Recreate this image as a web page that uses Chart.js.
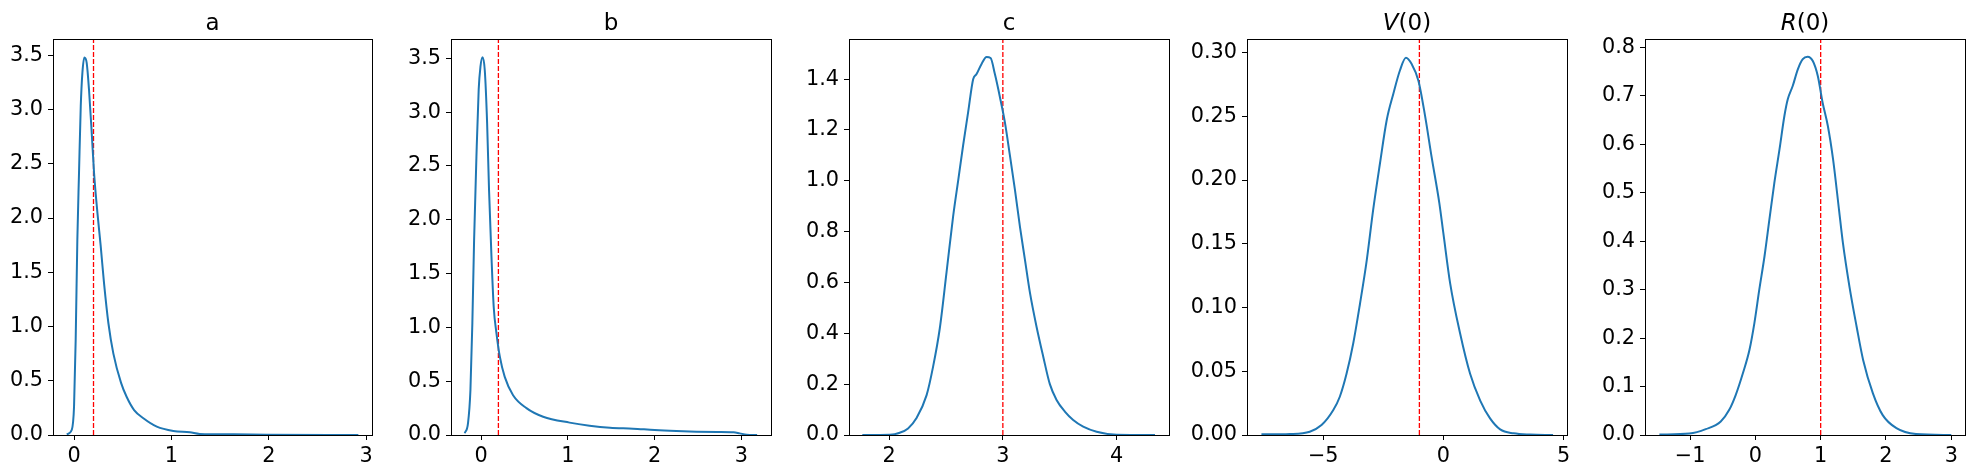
<!DOCTYPE html>
<html>
<head>
<meta charset="utf-8">
<script src="https://cdn.jsdelivr.net/npm/chart.js@4/dist/chart.umd.min.js"></script>
<style>
  html, body { margin: 0; padding: 0; background: #fff; }
  #wrap { position: relative; width: 1975px; height: 475px; overflow: hidden; }
  canvas { position: absolute; top: 0; }
</style>
</head>
<body>
<div id="wrap"></div>
<script>
'use strict';

// posterior density curves
const aX = [-0.075, -0.024, 0, 0.017, 0.034, 0.051, 0.069, 0.086, 0.106, 0.13, 0.154, 0.182, 0.206, 0.24, 0.274, 0.308, 0.353, 0.404, 0.483, 0.541, 0.617, 0.712, 0.85, 1.02, 1.19, 1.29, 1.64, 1.98, 2.92];
const aY = [0.006, 0.046, 0.26, 0.88, 1.80, 2.41, 3.03, 3.34, 3.48, 3.43, 3.18, 2.78, 2.41, 2.05, 1.74, 1.40, 1.03, 0.75, 0.48, 0.35, 0.23, 0.154, 0.077, 0.037, 0.025, 0.01, 0.006, 0.003, 0];

const bX = [-0.188, -0.15, -0.122, -0.1, -0.08, -0.053, -0.027, -0.007, 0.016, 0.043, 0.07, 0.092, 0.12, 0.146, 0.177, 0.216, 0.273, 0.369, 0.523, 0.715, 1.02, 1.25, 1.485, 1.75, 2.0, 2.25, 2.48, 2.72, 2.91, 2.98, 3.06, 3.18];
const bY = [0.016, 0.11, 0.42, 1.04, 1.81, 2.59, 3.21, 3.42, 3.51, 3.39, 2.90, 2.28, 1.66, 1.19, 0.95, 0.73, 0.54, 0.37, 0.25, 0.17, 0.115, 0.087, 0.068, 0.059, 0.046, 0.037, 0.031, 0.028, 0.025, 0.015, 0.003, 0];

const cX = [1.765, 2.006, 2.094, 2.167, 2.24, 2.33, 2.387, 2.446, 2.505, 2.563, 2.607, 2.651, 2.695, 2.739, 2.769, 2.813, 2.857, 2.892, 2.93, 2.974, 3.018, 3.062, 3.106, 3.15, 3.194, 3.238, 3.296, 3.354, 3.413, 3.472, 3.545, 3.618, 3.706, 3.824, 4.0, 4.337];
const cY = [0, 0.001, 0.009, 0.026, 0.066, 0.157, 0.269, 0.42, 0.64, 0.86, 1.00, 1.14, 1.27, 1.40, 1.42, 1.46, 1.487, 1.483, 1.42, 1.33, 1.23, 1.10, 0.965, 0.82, 0.69, 0.56, 0.426, 0.31, 0.20, 0.138, 0.092, 0.059, 0.033, 0.013, 0.001, 0];

const vX = [-7.57, -6.39, -5.56, -5.07, -4.58, -4.31, -4.03, -3.75, -3.47, -3.19, -2.92, -2.64, -2.36, -2.08, -1.81, -1.56, -1.32, -1.04, -0.76, -0.49, -0.17, 0, 0.28, 0.69, 1.11, 1.53, 1.94, 2.36, 2.92, 3.61, 4.56];
const vY = [0.0005, 0.0008, 0.0026, 0.0078, 0.0196, 0.030, 0.048, 0.072, 0.103, 0.137, 0.177, 0.213, 0.247, 0.268, 0.286, 0.296, 0.291, 0.278, 0.25, 0.218, 0.182, 0.158, 0.119, 0.080, 0.048, 0.027, 0.013, 0.0044, 0.0013, 0.0003, 0];

const rX = [-1.47, -1.01, -0.76, -0.53, -0.40, -0.30, -0.19, -0.09, -0.015, 0.06, 0.14, 0.215, 0.29, 0.37, 0.445, 0.496, 0.573, 0.65, 0.726, 0.80, 0.88, 0.956, 1.03, 1.11, 1.19, 1.28, 1.34, 1.44, 1.55, 1.65, 1.80, 1.95, 2.16, 2.46, 3.0];
const rY = [0.001, 0.003, 0.012, 0.028, 0.052, 0.083, 0.128, 0.176, 0.231, 0.30, 0.369, 0.445, 0.52, 0.59, 0.659, 0.693, 0.721, 0.755, 0.776, 0.781, 0.772, 0.741, 0.686, 0.638, 0.569, 0.466, 0.397, 0.307, 0.224, 0.155, 0.086, 0.041, 0.014, 0.002, 0];

// true parameter values (red dashed lines)
const trueValues = [0.2, 0.2, 3, -1, 1];

const titles = [
  [{ t: 'a', italic: false }],
  [{ t: 'b', italic: false }],
  [{ t: 'c', italic: false }],
  [{ t: 'V', italic: true }, { t: '(0)', italic: false }],
  [{ t: 'R', italic: true }, { t: '(0)', italic: false }]
];

const xTicks = [[0, 1, 2, 3], [0, 1, 2, 3], [2, 3, 4], [-5, 0, 5], [-1, 0, 1, 2, 3]];
const xTickLabels = [['0', '1', '2', '3'], ['0', '1', '2', '3'], ['2', '3', '4'], ['\u22125', '0', '5'], ['\u22121', '0', '1', '2', '3']];
const yTicks = [
  [0, 0.5, 1, 1.5, 2, 2.5, 3, 3.5],
  [0, 0.5, 1, 1.5, 2, 2.5, 3, 3.5],
  [0, 0.2, 0.4, 0.6, 0.8, 1.0, 1.2, 1.4],
  [0, 0.05, 0.10, 0.15, 0.20, 0.25, 0.30],
  [0, 0.1, 0.2, 0.3, 0.4, 0.5, 0.6, 0.7, 0.8]
];
const yTickLabels = [
  ['0.0', '0.5', '1.0', '1.5', '2.0', '2.5', '3.0', '3.5'],
  ['0.0', '0.5', '1.0', '1.5', '2.0', '2.5', '3.0', '3.5'],
  ['0.0', '0.2', '0.4', '0.6', '0.8', '1.0', '1.2', '1.4'],
  ['0.00', '0.05', '0.10', '0.15', '0.20', '0.25', '0.30'],
  ['0.0', '0.1', '0.2', '0.3', '0.4', '0.5', '0.6', '0.7', '0.8']
];

const curves = [[aX, aY], [bX, bY], [cX, cY], [vX, vY], [rX, rY]];

// axes placement and ranges
const panels = [
  { left: 53, right: 372, xMin: -0.216, xMax: 3.06, yMax: 3.65 },
  { left: 451, right: 771, xMin: -0.346, xMax: 3.34, yMax: 3.68 },
  { left: 849, right: 1169, xMin: 1.648, xMax: 4.46, yMax: 1.558 },
  { left: 1247, right: 1567, xMin: -8.17, xMax: 5.14, yMax: 0.3107 },
  { left: 1645, right: 1965, xMin: -1.69, xMax: 3.21, yMax: 0.8175 }
];

const FONT = "'DejaVu Sans', sans-serif";
const TITLE_PX = 23;
const Y_W = 62;
const PAD_R = 12;

const frameAndTitle = {
  id: 'frameAndTitle',
  afterDraw(chart) {
    const { ctx, chartArea } = chart;
    ctx.save();
    ctx.strokeStyle = '#000';
    ctx.lineWidth = 1;
    ctx.strokeRect(Math.round(chartArea.left) + 0.5, Math.round(chartArea.top) + 0.5,
      Math.round(chartArea.right - chartArea.left), Math.round(chartArea.bottom - chartArea.top));
    const parts = chart.options.plugins.frameAndTitle.parts;
    let total = 0;
    parts.forEach(p => {
      ctx.font = (p.italic ? 'italic ' : '') + TITLE_PX + 'px ' + FONT;
      p.w = ctx.measureText(p.t).width;
      total += p.w;
    });
    let x = (chartArea.left + chartArea.right) / 2 - total / 2;
    ctx.fillStyle = '#000';
    ctx.textBaseline = 'alphabetic';
    parts.forEach(p => {
      ctx.font = (p.italic ? 'italic ' : '') + TITLE_PX + 'px ' + FONT;
      ctx.fillText(p.t, x, 30);
      x += p.w;
    });
    ctx.restore();
  }
};

const wrap = document.getElementById('wrap');

panels.forEach((p, i) => {
  const canvas = document.createElement('canvas');
  const w = p.right - p.left + Y_W + PAD_R;
  canvas.width = w;
  canvas.height = 475;
  canvas.style.left = (p.left - Y_W) + 'px';
  canvas.style.width = w + 'px';
  canvas.style.height = '475px';
  wrap.appendChild(canvas);

  const [xs, ys] = curves[i];
  const pts = xs.map((x, k) => ({ x: x, y: ys[k] }));
  const tv = trueValues[i];

  new Chart(canvas.getContext('2d'), {
    type: 'line',
    data: {
      datasets: [{
        data: pts,
        borderColor: '#1f77b4',
        borderWidth: 2,
        pointRadius: 0,
        fill: false,
        cubicInterpolationMode: 'monotone'
      }, {
        data: [{ x: tv, y: 0 }, { x: tv, y: p.yMax }],
        borderColor: '#ff0000',
        borderWidth: 1.3,
        borderDash: [5, 2],
        pointRadius: 0,
        fill: false
      }]
    },
    plugins: [frameAndTitle],
    options: {
      responsive: false,
      animation: false,
      events: [],
      layout: { padding: { top: 39, right: PAD_R, left: 0, bottom: 0 } },
      plugins: {
        legend: { display: false },
        tooltip: { enabled: false },
        frameAndTitle: { parts: titles[i] }
      },
      scales: {
        x: {
          type: 'linear',
          min: p.xMin,
          max: p.xMax,
          afterBuildTicks: axis => { axis.ticks = xTicks[i].map(v => ({ value: v })); },
          afterFit: axis => { axis.height = 40; },
          grid: { drawOnChartArea: false, drawTicks: true, tickLength: 5, tickColor: '#000', tickWidth: 1 },
          border: { display: true, color: '#000', width: 1 },
          ticks: {
            color: '#000',
            padding: 4,
            maxRotation: 0,
            autoSkip: false,
            font: { family: FONT, size: 20.8 },
            callback: (v, k) => xTickLabels[i][k]
          }
        },
        y: {
          type: 'linear',
          min: 0,
          max: p.yMax,
          afterBuildTicks: axis => { axis.ticks = yTicks[i].map(v => ({ value: v })); },
          afterFit: axis => { axis.width = Y_W; },
          grid: { drawOnChartArea: false, drawTicks: true, tickLength: 5, tickColor: '#000', tickWidth: 1 },
          border: { display: true, color: '#000', width: 1 },
          ticks: {
            color: '#000',
            padding: 5,
            autoSkip: false,
            font: { family: FONT, size: 20.8 },
            callback: (v, k) => yTickLabels[i][k]
          }
        }
      }
    }
  });
});
</script>
</body>
</html>
